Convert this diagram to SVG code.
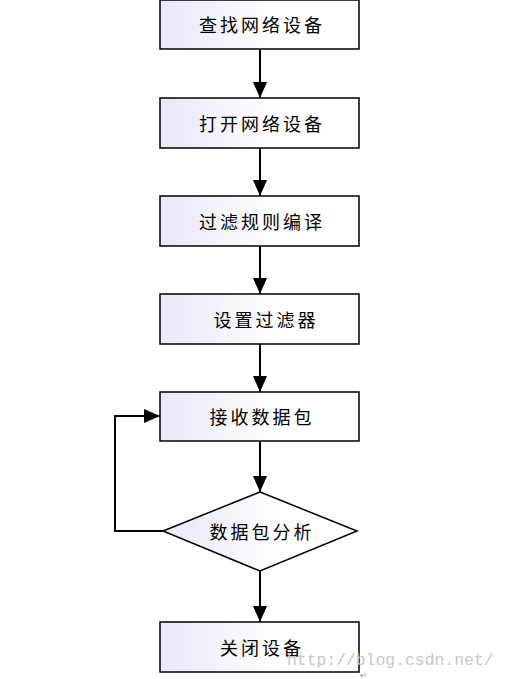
<svg xmlns="http://www.w3.org/2000/svg" width="509" height="679" viewBox="0 0 509 679">
<style>
.box{stroke:#000;stroke-width:1.5;fill:url(#g)}
.t{font-family:"Noto Sans CJK SC","Noto Sans",sans-serif;font-size:18px;letter-spacing:3px;fill:#000;text-anchor:middle;dominant-baseline:central}
.c{stroke:#000;stroke-width:2;fill:none}
</style>
<defs>
<linearGradient id="g" x1="0" y1="0" x2="1" y2="0">
<stop offset="0" stop-color="#e8e8f8"/>
<stop offset="0.6" stop-color="#ffffff"/>
</linearGradient>
<marker id="a" viewBox="0 0 16 14" refX="16" refY="7" markerWidth="16" markerHeight="14" markerUnits="userSpaceOnUse" orient="auto">
<path d="M0,0L16,7L0,14Z" fill="#000"/>
</marker>
</defs>
<rect width="509" height="679" fill="#fff"/>
<g id="n1"><rect class="box" x="160" y="0" width="199" height="49"/><text class="t" x="262" y="24">查找网络设备</text></g>
<g id="n2"><rect class="box" x="160" y="98" width="199" height="50"/><text class="t" x="262" y="123">打开网络设备</text></g>
<g id="n3"><rect class="box" x="160" y="196" width="199" height="50"/><text class="t" x="262" y="221">过滤规则编译</text></g>
<g id="n4"><rect class="box" x="160" y="294" width="199" height="50"/><text class="t" x="266" y="319">设置过滤器</text></g>
<g id="n5"><rect class="box" x="160" y="392" width="199" height="49"/><text class="t" x="262" y="416">接收数据包</text></g>
<g id="n6"><polygon class="box" points="260,492 357,531 260,571 163,531"/><text class="t" x="262" y="531">数据包分析</text></g>
<g id="n7"><rect class="box" x="160" y="622" width="199" height="50"/><text class="t" x="262" y="647">关闭设备</text></g>
<g id="edges">
<line class="c" x1="260" y1="49" x2="260" y2="98" marker-end="url(#a)"/>
<line class="c" x1="260" y1="148" x2="260" y2="196" marker-end="url(#a)"/>
<line class="c" x1="260" y1="246" x2="260" y2="294" marker-end="url(#a)"/>
<line class="c" x1="260" y1="344" x2="260" y2="392" marker-end="url(#a)"/>
<line class="c" x1="260" y1="441" x2="260" y2="492" marker-end="url(#a)"/>
<line class="c" x1="260" y1="571" x2="260" y2="622" marker-end="url(#a)"/>
<polyline class="c" points="163,531 115,531 115,416 160,416" marker-end="url(#a)"/>
</g>
<text x="287" y="665" font-family="Liberation Mono,monospace" font-size="16.4" fill="#c8c8c8">http://blog.csdn.net/</text>
<text x="360" y="678" font-family="Liberation Sans,sans-serif" font-size="8" fill="#888">↵</text>
</svg>
